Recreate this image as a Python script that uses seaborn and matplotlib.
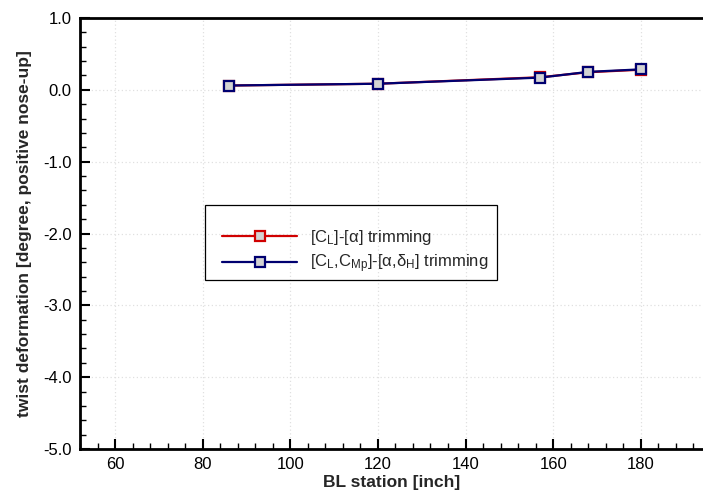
import numpy as np
import pandas as pd
import matplotlib
matplotlib.use("Agg")
import matplotlib.pyplot as plt
from matplotlib.ticker import MultipleLocator, FormatStrFormatter
from matplotlib.patches import Rectangle
import seaborn as sns

# Spanwise stations (butt line) and twist deformation per trimming strategy
bl_station = [86, 120, 157, 168, 180]
twist_cl_alpha = [0.06, 0.085, 0.175, 0.245, 0.28]
twist_cl_cmp_alpha_dh = [0.06, 0.085, 0.17, 0.25, 0.285]
series_labels = ["[C$_\\mathregular{L}$]-[α] trimming",
                 "[C$_\\mathregular{L}$,C$_\\mathregular{Mp}$]-[α,δ$_\\mathregular{H}$] trimming"]
series_colors = ["#d00000", "#000070"]

sns.set_theme(style="white")
plt.rcParams["font.family"] = ["Liberation Sans", "DejaVu Sans"]
plt.rcParams["mathtext.fontset"] = "custom"
plt.rcParams["mathtext.rm"] = "Liberation Sans"
plt.rcParams["mathtext.it"] = "Liberation Sans:italic"
plt.rcParams["mathtext.bf"] = "Liberation Sans:bold"
plt.rcParams["axes.unicode_minus"] = False

df = pd.DataFrame({
    "BL": bl_station * 2,
    "twist": twist_cl_alpha + twist_cl_cmp_alpha_dh,
    "case": [series_labels[0]] * len(bl_station) + [series_labels[1]] * len(bl_station),
})

fig = plt.figure(figsize=(7.03, 4.92), dpi=100)
ax = fig.add_axes([80 / 703, 1 - 449 / 492, 1 - 80 / 703, (449 - 18) / 492])

for lab, col in zip(series_labels, series_colors):
    sns.lineplot(data=df[df["case"] == lab], x="BL", y="twist", ax=ax,
                 color=col, lw=1.6, marker="s", markersize=7.5,
                 markerfacecolor="#d3d3d3", markeredgecolor=col,
                 markeredgewidth=1.6, sort=False, estimator=None, label=lab,
                 legend=False)

ax.set_xlim(52, 194.2)
ax.set_ylim(-5.0, 1.0)
ax.xaxis.set_major_locator(MultipleLocator(20))
ax.xaxis.set_minor_locator(MultipleLocator(4))
ax.yaxis.set_major_locator(MultipleLocator(1.0))
ax.yaxis.set_minor_locator(MultipleLocator(0.2))
ax.yaxis.set_major_formatter(FormatStrFormatter("%.1f"))

ax.tick_params(axis="both", which="major", direction="in", length=7, width=1.5,
               labelsize=12, colors="black", pad=6)
ax.tick_params(axis="both", which="minor", direction="in", length=4, width=1.0,
               colors="black")
ax.tick_params(axis="x", which="both", top=False, bottom=True)
ax.tick_params(axis="y", which="both", left=True, right=False)

ax.grid(True, which="major", color="#e0e0e0", linestyle=(0, (1, 2)), linewidth=0.9)
ax.set_axisbelow(True)

for side in ["left", "bottom", "top"]:
    ax.spines[side].set_color("black")
    ax.spines[side].set_linewidth(2.0)
ax.spines["right"].set_visible(False)

ax.set_xlabel("BL station [inch]", fontsize=12.5, fontweight="bold", labelpad=2)
ax.set_ylabel("twist deformation [degree, positive nose-up]", fontsize=12.5,
              fontweight="bold", labelpad=8)

# Legend with a plain rectangular frame
handles, labels = ax.get_legend_handles_labels()
leg = ax.legend(handles, labels, loc="upper left",
                bbox_to_anchor=(222 / 703, 1 - 228 / 492),
                bbox_transform=fig.transFigure, frameon=False, fontsize=12,
                handlelength=4.5, handletextpad=0.8, labelspacing=0.35,
                borderpad=0, borderaxespad=0)
fig.add_artist(Rectangle((205 / 703, 1 - 280 / 492), (497 - 205) / 703,
                         (280 - 205) / 492, transform=fig.transFigure,
                         fill=False, edgecolor="black", linewidth=0.9))

fig.savefig("out.png", dpi=100)
